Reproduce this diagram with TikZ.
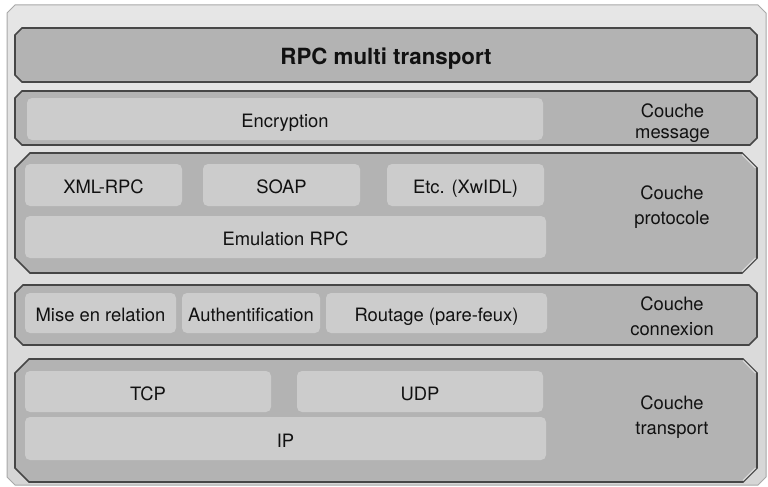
\documentclass[tikz,border=0pt]{standalone}
\usepackage{fontspec}
\setmainfont{TeX Gyre Heros}
\definecolor{framedraw}{HTML}{A8A8A8}
\definecolor{frametop}{HTML}{E6E6E6}
\definecolor{framebot}{HTML}{D6D6D6}
\definecolor{layerfill}{HTML}{B3B3B3}
\definecolor{layerdraw}{HTML}{464646}
\definecolor{hilite}{HTML}{D8D8D8}
\definecolor{boxfill}{HTML}{CCCCCC}
\definecolor{txt}{HTML}{111111}
\newcommand{\champath}[5]{(#1+#5,#2) -- (#3-#5,#2) -- (#3,#2+#5) -- (#3,#4-#5) -- (#3-#5,#4) -- (#1+#5,#4) -- (#1,#4-#5) -- (#1,#2+#5) -- cycle}
\tikzset{
  framestyle/.style={draw=framedraw, line width=1pt, top color=frametop, bottom color=framebot},
  layerstyle/.style={draw=layerdraw, line width=1.6pt, fill=layerfill, line join=miter},
  chamhi/.style={draw=hilite, line width=1.2pt},
  ibox/.style={rectangle, rounded corners=5pt, fill=boxfill, inner sep=0pt, outer sep=0pt,
    text=txt, font=\fontsize{18.4}{24.5}\selectfont, text height=17pt, text depth=0pt},
  lbl/.style={align=center, text=txt, font=\fontsize{18.4}{25}\selectfont, inner sep=0pt},
  ttl/.style={text=txt, font=\bfseries\fontsize{22.3}{26}\selectfont, inner sep=0pt,
    text height=20pt, text depth=0pt}
}
\begin{document}
\begin{tikzpicture}[x=1pt,y=-1pt]
\useasboundingbox (0,0) rectangle (768,487);
% outer frame
\draw[framestyle] \champath{7}{5}{766}{485}{8};
% layers
\draw[layerstyle] \champath{15}{28}{757}{82}{7};
\draw[layerstyle] \champath{15}{91}{757}{145}{7};
\draw[layerstyle] \champath{15}{153}{757}{273}{15};
\draw[layerstyle] \champath{15}{285}{757}{345}{8};
\draw[layerstyle] \champath{15}{359}{757}{482}{14};
% light bevel on right chamfers
\draw[chamhi] (742,154.5) -- (755.5,168);
\draw[chamhi] (755.5,258) -- (742,271.5);
\draw[chamhi] (743,360.5) -- (755.5,373);
\draw[chamhi] (755.5,468) -- (743,480.5);
% title
\node[ttl] (title) at (386,55) {RPC multi transport};
% inner boxes
\node[ibox, minimum width=516pt, minimum height=42pt] (enc) at (285,119) {Encryption};
\node[ibox, minimum width=157pt, minimum height=42pt] (xml) at (103.5,185) {XML-RPC};
\node[ibox, minimum width=157pt, minimum height=42pt] (soap) at (281.5,185) {SOAP};
\node[ibox, minimum width=157pt, minimum height=42pt] (etc) at (465.5,185) {Etc. (XwIDL)};
\node[ibox, minimum width=521pt, minimum height=42pt] (emu) at (285.5,237) {Emulation RPC};
\node[ibox, minimum width=151pt, minimum height=40pt] (mise) at (100.5,313) {Mise en relation};
\node[ibox, minimum width=138pt, minimum height=40pt] (auth) at (251,313) {Authentification};
\node[ibox, minimum width=221pt, minimum height=40pt] (rout) at (436.5,313) {Routage (pare-feux)};
\node[ibox, minimum width=246pt, minimum height=41pt] (tcp) at (148,391.5) {TCP};
\node[ibox, minimum width=246pt, minimum height=41pt] (udp) at (420,391.5) {UDP};
\node[ibox, minimum width=521pt, minimum height=43pt] (ip) at (285.5,438.5) {IP};
% labels
\node[lbl, font=\fontsize{18.4}{21}\selectfont] (lmsg) at (672.5,123) {Couche\\message};
\node[lbl] (lproto) at (672,207.5) {Couche\\protocole};
\node[lbl] (lconn) at (672,315.8) {Couche\\connexion};
\node[lbl] (ltrans) at (672,417.5) {Couche\\transport};
\end{tikzpicture}
\end{document}
